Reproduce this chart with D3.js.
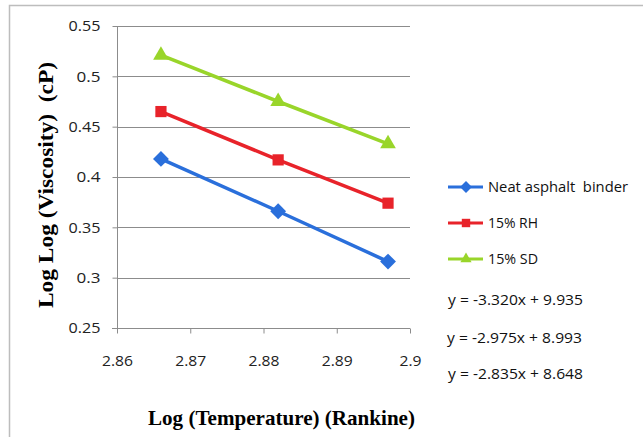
<!DOCTYPE html>
<html>
<head>
<meta charset="utf-8">
<script src="https://cdn.jsdelivr.net/npm/d3@7"></script>
<style>
	html, body { margin: 0; padding: 0; background: #fff; }
	svg { display: block; }
	text { white-space: pre; }
	.tick text { font-family: "Open Sans", "DejaVu Sans", sans-serif; }
</style>
</head>
<body>
<svg id="chart"></svg>
<script>
// values
const logTemp = [2.866, 2.882, 2.897];
const neatBinder = [0.418, 0.366, 0.316];
const rh15 = [0.465, 0.417, 0.374];
const sd15 = [0.521, 0.475, 0.433];

const seriesNames = ["Neat asphalt  binder", "15% RH", "15% SD"];
const seriesColors = ["#2a6fdb", "#e8232a", "#99d52a"];
const seriesShapes = [d3.symbolDiamond2, d3.symbolSquare2, d3.symbolTriangle2];
const equations = ["y = -3.320x + 9.935", "y = -2.975x + 8.993", "y = -2.835x + 8.648"];

const xTicks = [2.86, 2.87, 2.88, 2.89, 2.9];
const yTicks = [0.25, 0.3, 0.35, 0.4, 0.45, 0.5, 0.55];

const W = 643, H = 437;
const margin = {top: 26, right: 233, bottom: 109, left: 117};

const svg = d3.select("#chart").attr("width", W).attr("height", H);

// outer frame (runs off the right and bottom edges)
svg.append("rect")
	.attr("x", 9.5).attr("y", 5.5)
	.attr("width", 700).attr("height", 500)
	.attr("fill", "none")
	.attr("stroke", "#bdbdbd")
	.attr("stroke-width", 1.5);

const x = d3.scaleLinear().domain([2.86, 2.9]).range([margin.left, W - margin.right]);
const y = d3.scaleLinear().domain([0.25, 0.55]).range([H - margin.bottom, margin.top]);

// horizontal gridlines
svg.append("g")
	.selectAll("line")
	.data(yTicks.slice(1))
	.join("line")
	.attr("x1", x(2.86)).attr("x2", x(2.9))
	.attr("y1", d => Math.round(y(d)) + 0.5)
	.attr("y2", d => Math.round(y(d)) + 0.5)
	.attr("stroke", "#8c8c8c")
	.attr("stroke-width", 1);

// y axis
const yAxis = svg.append("g")
	.attr("transform", `translate(${Math.round(x(2.86)) + 0.5},0)`)
	.call(d3.axisLeft(y).tickValues(yTicks).tickFormat(d => d3.format("")(+d.toFixed(2))).tickSize(5).tickPadding(12));
yAxis.select(".domain").attr("stroke", "#8c8c8c").attr("d", `M0,${y(0.55)}V${y(0.25)}`);
yAxis.selectAll(".tick line").attr("stroke", "#8c8c8c");
yAxis.selectAll(".tick text").attr("font-size", 15).attr("fill", "#222")
	.attr("textLength", d => d.toString().length > 3 ? 32 : 24)
	.attr("lengthAdjust", "spacingAndGlyphs");

// x axis
const xAxis = svg.append("g")
	.attr("transform", `translate(0,${Math.round(y(0.25)) + 0.5})`)
	.call(d3.axisBottom(x).tickValues(xTicks).tickFormat(d => d3.format("")(+d.toFixed(2))).tickSize(5).tickPadding(22));
xAxis.select(".domain").attr("stroke", "#8c8c8c").attr("d", `M${x(2.86) - 5},0H${x(2.9)}`);
xAxis.selectAll(".tick line").attr("stroke", "#8c8c8c");
xAxis.selectAll(".tick text").attr("font-size", 15).attr("fill", "#222")
	.attr("textLength", d => (+d.toFixed(2)).toString().length > 3 ? 31 : 22)
	.attr("lengthAdjust", "spacingAndGlyphs");

const allSeries = [neatBinder, rh15, sd15];

const line = d3.line()
	.x((d, i) => x(logTemp[i]))
	.y(d => y(d));

allSeries.forEach((vals, s) => {
	svg.append("path")
		.datum(vals)
		.attr("fill", "none")
		.attr("stroke", seriesColors[s])
		.attr("stroke-width", 3.5)
		.attr("d", line);

	svg.append("g")
		.selectAll("path")
		.data(vals)
		.join("path")
		.attr("transform", (d, i) => `translate(${x(logTemp[i])},${y(d)})`)
		.attr("d", d3.symbol().type(seriesShapes[s]).size(s === 2 ? 175 : 160))
		.attr("fill", seriesColors[s]);
});

// legend
const legend = svg.append("g").attr("transform", "translate(448,0)");
const legendY = [187, 223, 259];
seriesNames.forEach((name, s) => {
	const g = legend.append("g").attr("transform", `translate(0,${legendY[s]})`);
	g.append("line")
		.attr("x1", 0).attr("x2", 35)
		.attr("stroke", seriesColors[s])
		.attr("stroke-width", 3);
	g.append("path")
		.attr("transform", "translate(18,0)")
		.attr("d", d3.symbol().type(seriesShapes[s]).size(90))
		.attr("fill", seriesColors[s]);
	g.append("text")
		.attr("x", 40).attr("dy", "0.35em")
		.attr("font-family", "'Open Sans', sans-serif")
		.attr("font-size", 15)
		.attr("fill", "#111")
		.attr("textLength", s === 0 ? 140 : 50)
		.attr("lengthAdjust", "spacingAndGlyphs")
		.text(name);
});

// trend line equations
const eqY = [300, 338, 374];
equations.forEach((eq, i) => {
	svg.append("text")
		.attr("x", i === 1 ? 447 : 448).attr("y", eqY[i]).attr("dy", "0.35em")
		.attr("font-family", "'Open Sans', sans-serif")
		.attr("font-size", 15)
		.attr("fill", "#111")
		.attr("textLength", 135)
		.attr("lengthAdjust", "spacingAndGlyphs")
		.text(eq);
});

// axis titles
svg.append("text")
	.attr("x", (x(2.86) + x(2.9)) / 2 + 18).attr("y", 417).attr("dy", "0.35em")
	.attr("text-anchor", "middle")
	.attr("font-family", "'Liberation Serif', 'Times New Roman', serif")
	.attr("font-weight", "bold")
	.attr("font-size", 22)
	.attr("textLength", 267)
	.attr("lengthAdjust", "spacingAndGlyphs")
	.text("Log (Temperature) (Rankine)");

svg.append("text")
	.attr("transform", "translate(45,185) rotate(-90)")
	.attr("dy", "0.35em")
	.attr("text-anchor", "middle")
	.attr("font-family", "'Liberation Serif', 'Times New Roman', serif")
	.attr("font-weight", "bold")
	.attr("font-size", 22)
	.attr("textLength", 246)
	.attr("lengthAdjust", "spacingAndGlyphs")
	.text("Log Log (Viscosity)  (cP)");
</script>
</body>
</html>
